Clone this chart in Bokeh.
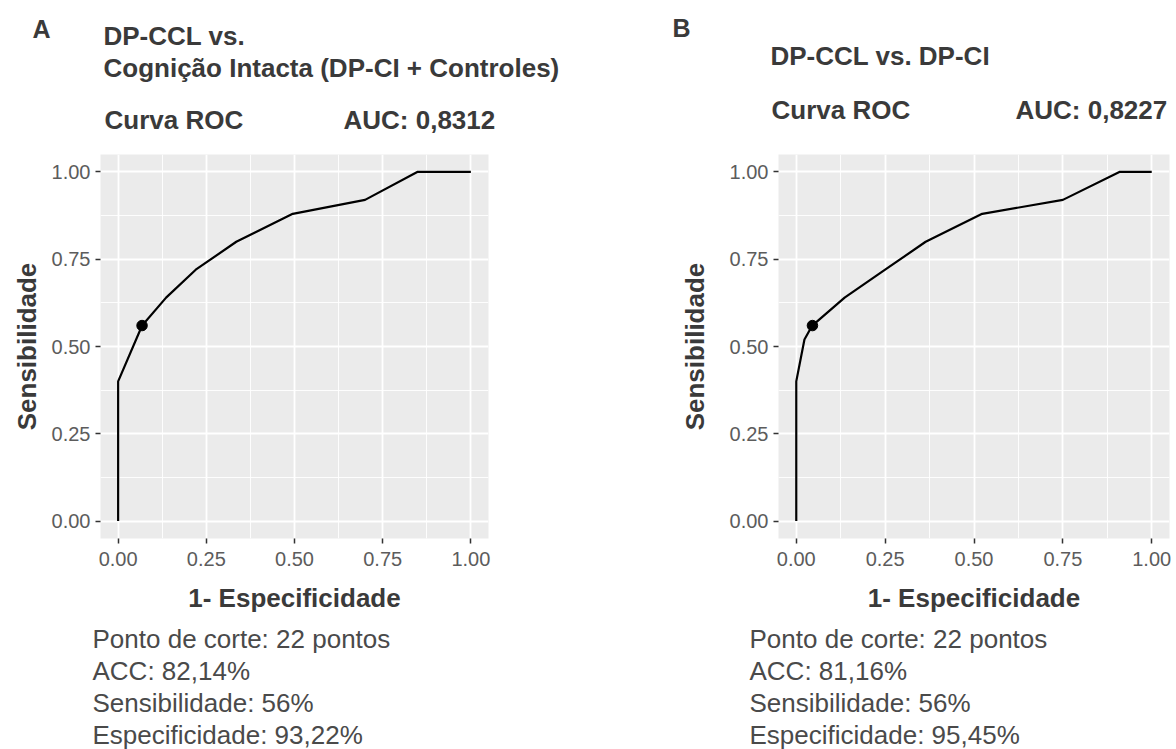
from bokeh.plotting import figure
from bokeh.layouts import row, column
from bokeh.models import FixedTicker, Range1d, ColumnDataSource
from bokeh.core.properties import value
from bokeh.embed import file_html
from bokeh.resources import INLINE

# ---------------- data ----------------
tick_values = [0.0, 0.25, 0.5, 0.75, 1.0]
tick_labels = ["0.00", "0.25", "0.50", "0.75", "1.00"]
minor_values = [0.125, 0.375, 0.625, 0.875]

# Panel A: DP-CCL vs. cognição intacta
a_fpr = [0.0, 0.0, 0.068, 0.136, 0.22, 0.335, 0.495, 0.70, 0.848, 1.0]
a_tpr = [0.0, 0.40, 0.56, 0.64, 0.72, 0.80, 0.88, 0.92, 1.00, 1.00]
a_cut_fpr = [0.0678]
a_cut_tpr = [0.56]

# Panel B: DP-CCL vs. DP-CI
b_fpr = [0.0, 0.0, 0.023, 0.045, 0.136, 0.25, 0.364, 0.523, 0.75, 0.909, 1.0]
b_tpr = [0.0, 0.40, 0.52, 0.56, 0.64, 0.72, 0.80, 0.88, 0.92, 1.00, 1.00]
b_cut_fpr = [0.0455]
b_cut_tpr = [0.56]

a_letter = "A"
a_titles = ["DP-CCL vs.", "Cognição Intacta (DP-CI + Controles)"]
a_auc = "AUC: 0,8312"
a_stats = ["Ponto de corte: 22 pontos", "ACC: 82,14%", "Sensibilidade: 56%", "Especificidade: 93,22%"]

b_letter = "B"
b_titles = ["DP-CCL vs. DP-CI"]
b_auc = "AUC: 0,8227"
b_stats = ["Ponto de corte: 22 pontos", "ACC: 81,16%", "Sensibilidade: 56%", "Especificidade: 95,45%"]

subtitle = "Curva ROC"
x_title = "1- Especificidade"
y_title = "Sensibilidade"

FONT = "Liberation Sans"
TITLE_COL = "#3a3a3a"
TICK_COL = "#5c5c5c"
TEXT_COL = "#4a4a4a"

W = 1176
TOP_H = 140
BOT_Y = 621
PLOT_H = BOT_Y - TOP_H
BOT_H = 749 - BOT_Y
SHIFT = 10  # renderer places alphabetic baseline this much lower


def text_fig(height):
    f = figure(width=W, height=height, output_backend="svg", toolbar_location=None,
               x_range=Range1d(0, W), y_range=Range1d(height, 0),
               x_axis_type=None, y_axis_type=None, min_border=0)
    f.outline_line_color = None
    f.background_fill_color = "white"
    f.border_fill_color = "white"
    return f


def add_text(f, xs, ys, texts, size, bold, color):
    f.text(x=xs, y=[y - SHIFT for y in ys], text=texts, text_font=value(FONT),
           text_font_size=value(size),
           text_font_style="bold" if bold else "normal", text_color=color,
           text_baseline="alphabetic", text_align="left")


def panel(fpr, tpr, cfpr, ctpr, geo):
    PW = 588
    fl, fr, ft, fb, ox = geo["fl"], geo["fr"], geo["ft"], geo["fb"], geo["ox"]
    p = figure(width=PW, height=PLOT_H, output_backend="svg", toolbar_location=None,
               x_range=Range1d(-0.05, 1.05), y_range=Range1d(-0.05, 1.05),
               min_border_left=fl - ox, min_border_right=ox + PW - fr,
               min_border_top=ft - TOP_H, min_border_bottom=BOT_Y - fb)
    p.background_fill_color = "#EBEBEB"
    p.border_fill_color = "white"
    p.outline_line_color = None

    ticker = FixedTicker(ticks=tick_values, minor_ticks=minor_values)
    overrides = {v: s for v, s in zip(tick_values, tick_labels)}
    for ax in (p.xaxis[0], p.yaxis[0]):
        ax.ticker = ticker
        ax.major_label_overrides = overrides
        ax.axis_line_color = None
        ax.major_tick_line_color = "#333333"
        ax.major_tick_line_width = 1.5
        ax.major_tick_in = 0
        ax.major_tick_out = 5
        ax.minor_tick_line_color = None
        ax.major_label_text_font = FONT
        ax.major_label_text_font_size = "20px"
        ax.major_label_text_color = TICK_COL
        ax.axis_label_text_font = FONT
        ax.axis_label_text_font_size = "26px"
        ax.axis_label_text_font_style = "bold"
        ax.axis_label_text_color = TITLE_COL
    p.xaxis.axis_label = x_title
    p.yaxis.axis_label = y_title
    p.xaxis.major_label_standoff = 8
    p.yaxis.major_label_standoff = 5
    p.xaxis.axis_label_standoff = 14
    p.yaxis.axis_label_standoff = geo["ylab_standoff"]

    for g in (p.xgrid[0], p.ygrid[0]):
        g.ticker = ticker
        g.grid_line_color = "white"
        g.grid_line_width = 1.8
        g.minor_grid_line_color = "white"
        g.minor_grid_line_width = 0.9

    src = ColumnDataSource(dict(x=fpr, y=tpr))
    p.line("x", "y", source=src, line_color="black", line_width=2.2)
    p.scatter(cfpr, ctpr, size=10.5, color="black")
    return p


geo_a = dict(ox=0, fl=100, fr=488, ft=154, fb=540, ylab_standoff=7)
geo_b = dict(ox=588, fl=778, fr=1169, ft=148, fb=538, ylab_standoff=17)

pa = panel(a_fpr, a_tpr, a_cut_fpr, a_cut_tpr, geo_a)
pb = panel(b_fpr, b_tpr, b_cut_fpr, b_cut_tpr, geo_b)

# ----- header texts -----
top = text_fig(TOP_H)
add_text(top, [32, 672], [38, 37], [a_letter, b_letter], "25px", True, TITLE_COL)
add_text(top, [103, 103, 770], [45, 77, 65], a_titles + b_titles, "26px", True, TITLE_COL)
add_text(top, [104, 343, 771, 1015], [129, 129, 119, 119],
         [subtitle, a_auc, subtitle, b_auc], "26px", True, TITLE_COL)

# ----- footer texts -----
bot = text_fig(BOT_H)
line_y = [648, 680, 712, 744]
add_text(bot, [92] * 4 + [749] * 4, [y - BOT_Y for y in line_y] * 2,
         a_stats + b_stats, "26px", False, TEXT_COL)

layout = column(top, row(pa, pb), bot, spacing=0)
open("out.html", "w").write(file_html(layout, INLINE))
